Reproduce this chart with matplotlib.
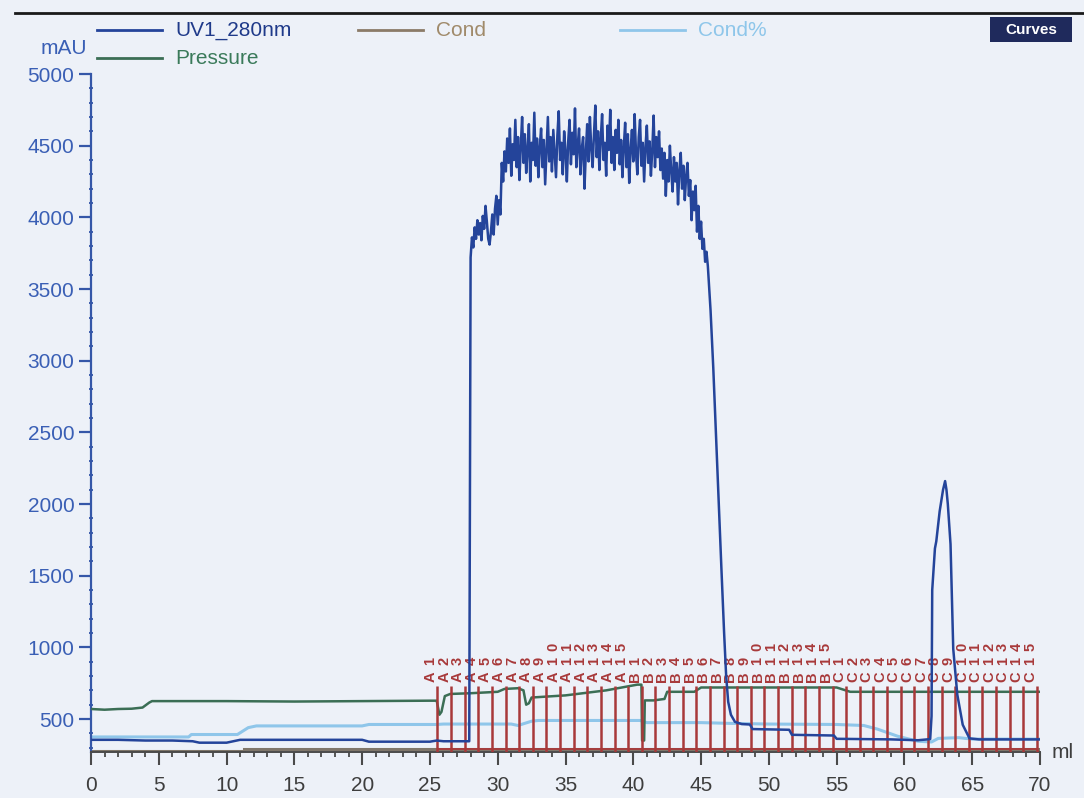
import numpy as np
import matplotlib
matplotlib.use("Agg")
import matplotlib.pyplot as plt
from matplotlib.lines import Line2D
from matplotlib.patches import Rectangle
from matplotlib.ticker import MultipleLocator

W, H, DPI = 1084, 798, 100
BG = "#edf1f8"
FONT = "Liberation Sans"

# ---------------- data ----------------
uv_pre_x = [0, 2, 4, 6, 7.5, 8, 10, 10.5, 11, 15, 20, 20.5, 25, 25.5, 26, 27, 27.9]
uv_pre_y = [355, 355, 350, 350, 345, 335, 335, 345, 355, 355, 355, 342, 342, 350, 345, 345, 345]

uv_plateau_start, uv_plateau_step = 28.0, 0.1
uv_plateau_y = [
    3720, 3860, 3790, 3930, 3850, 3980, 3880, 3960, 3840, 4010,
    3920, 4080, 3970, 3850, 3810, 3900, 4020, 3880, 4060, 4150,
    3950, 4120, 4020, 4380, 4250, 4460, 4320, 4550, 4380, 4620,
    4290, 4510, 4400, 4680, 4350, 4560, 4260, 4490, 4700, 4380,
    4580, 4310, 4470, 4650, 4250, 4520, 4400, 4730, 4360, 4550,
    4280, 4490, 4620, 4350, 4540, 4230, 4460, 4700, 4390, 4560,
    4320, 4610, 4450, 4280, 4570, 4740, 4400, 4520, 4300, 4600,
    4460, 4250, 4530, 4680, 4370, 4590, 4440, 4760, 4350, 4500,
    4620, 4300, 4480, 4560, 4200, 4450, 4650, 4390, 4700, 4480,
    4350, 4580, 4780, 4420, 4600, 4330, 4550, 4720, 4400, 4520,
    4290, 4640, 4470, 4750, 4380, 4560, 4330, 4610, 4450, 4680,
    4370, 4540, 4280, 4490, 4660, 4350, 4580, 4240, 4470, 4610,
    4390, 4720, 4450, 4300, 4560, 4680, 4360, 4520, 4250, 4490,
    4640, 4380, 4530, 4290, 4470, 4710, 4350, 4560, 4420, 4600,
    4330, 4480, 4270, 4450, 4150, 4400, 4250, 4500, 4320, 4180,
    4420, 4250, 4380, 4090, 4330, 4450, 4200, 4360, 4120, 4290,
    4380, 4150, 4260, 3980, 4180, 4050, 4220, 3900, 4080, 3850,
    3970, 3780, 3850, 3690, 3760, 3660,
]

uv_post_x = [45.7, 45.9, 46.1, 46.3, 46.5, 46.7, 46.85, 47.0, 47.2, 47.5, 48.0, 48.6,
             48.8, 50.0, 51.5, 51.7, 53.0, 54.8, 55.0, 57.0, 59.0, 60.0, 61.0, 61.9,
             62.0, 62.05, 62.25, 62.35, 62.6, 62.85, 63.0, 63.1, 63.2, 63.4, 63.6,
             63.9, 64.3, 64.8, 65.5, 70.0]
uv_post_y = [3350, 2950, 2480, 2000, 1550, 1100, 800, 620, 530, 480, 465, 462,
             430, 428, 425, 390, 388, 385, 362, 360, 358, 355, 352, 360,
             520, 1400, 1690, 1740, 1950, 2100, 2160, 2100, 2000, 1720, 990,
             670, 460, 365, 358, 358]

pressure_x = [0, 1, 2, 3, 3.8, 4.3, 4.5, 10, 15, 20, 25, 25.5, 25.7, 25.85, 26.1, 26.5,
              28, 30, 30.5, 31.5, 31.9, 32.1, 32.3, 32.5, 35, 38, 40.3, 40.6, 40.65,
              40.8, 40.85, 41.5, 42.3, 42.5, 44.5, 45, 47, 50, 55, 56, 60, 65, 70]
pressure_y = [570, 565, 570, 572, 580, 615, 625, 625, 622, 625, 628, 628, 530, 550, 660, 675,
              680, 690, 710, 715, 700, 600, 610, 650, 665, 700, 740, 740, 350,
              350, 630, 630, 640, 690, 690, 720, 720, 720, 720, 690, 690, 690, 690]

condpct_x = [0, 7.2, 7.4, 10.8, 11.6, 12.2, 20, 20.5, 25.5, 26, 31, 31.5, 32.5, 33, 40.5,
             41, 45, 47, 50, 55, 57, 58, 59.5, 61, 62, 62.5, 64, 65, 70]
condpct_y = [375, 375, 392, 392, 440, 452, 452, 462, 462, 465, 465, 455, 485, 490, 490,
             475, 475, 470, 465, 462, 455, 430, 380, 345, 340, 365, 370, 360, 360]

cond_x = [0, 11.3, 11.3, 70]
cond_y = [280, 280, 290, 290]

fraction_pos = [25.55, 26.56, 27.56, 28.57, 29.57, 30.58, 31.58, 32.59, 33.59, 34.60,
                35.60, 36.61, 37.61, 38.62, 39.62, 40.63, 41.63, 42.64, 43.64, 44.65,
                45.65, 46.66, 47.66, 48.67, 49.67, 50.68, 51.68, 52.69, 53.69, 54.70,
                55.70, 56.71, 57.71, 58.72, 59.72, 60.73, 61.73, 62.74, 63.74, 64.75,
                65.75, 66.76, 67.76, 68.77, 69.77]
fraction_labels = ([f"A{i}" for i in range(1, 16)] + [f"B{i}" for i in range(1, 16)]
                   + [f"C{i}" for i in range(1, 16)])

x_ticks = [0, 5, 10, 15, 20, 25, 30, 35, 40, 45, 50, 55, 60, 65, 70]
y_ticks = [500, 1000, 1500, 2000, 2500, 3000, 3500, 4000, 4500, 5000]

# ---------------- colours ----------------
C_UV = "#24449a"
C_PRESS = "#3b6e55"
C_CONDPCT = "#8fc6ea"
C_COND = "#7f766a"
C_FRAC = "#a8393a"

uv_plateau_x = [round(uv_plateau_start + i * uv_plateau_step, 2) for i in range(len(uv_plateau_y))]
uv_x = uv_pre_x + uv_plateau_x + uv_post_x
uv_y = uv_pre_y + uv_plateau_y + uv_post_y

plt.rcParams["font.family"] = [FONT, "DejaVu Sans"]

fig = plt.figure(figsize=(W / DPI, H / DPI), dpi=DPI, facecolor=BG)


def fx(px):
    return px / W


def fy(py):
    return 1 - py / H


ax = fig.add_axes([fx(91), fy(752), (1040 - 91) / W, (752 - 74) / H])
ax.set_facecolor(BG)
ax.set_xlim(0, 70)
ax.set_ylim(270, 5000)

for s in ["top", "right"]:
    ax.spines[s].set_visible(False)
ax.spines["left"].set_color("#3557a8")
ax.spines["left"].set_linewidth(1.6)
ax.spines["bottom"].set_color("#4a4a4a")
ax.spines["bottom"].set_linewidth(1.4)

ax.set_xticks(x_ticks)
ax.set_xticklabels([str(t) for t in x_ticks])
ax.xaxis.set_minor_locator(MultipleLocator(1))
ax.set_yticks(y_ticks)
ax.set_yticklabels([str(t) for t in y_ticks])
ax.yaxis.set_minor_locator(MultipleLocator(100))
ax.tick_params(axis="x", which="major", direction="out", length=9, width=1.5,
               color="#4a4a4a", labelcolor="#3e3e3e", labelsize=15, pad=8)
ax.tick_params(axis="x", which="minor", direction="out", length=3.5, width=1.3, color="#4a4a4a")
ax.tick_params(axis="y", which="major", direction="out", length=9, width=1.6,
               color="#3557a8", labelcolor="#3a5fb5", labelsize=15, pad=3)
ax.tick_params(axis="y", which="minor", direction="inout", length=3, width=1.3, color="#3557a8")

# traces
ax.plot(cond_x, cond_y, color=C_COND, lw=2.2, zorder=2, solid_joinstyle="miter")
ax.plot(condpct_x, condpct_y, color=C_CONDPCT, lw=2.2, zorder=2)
ax.plot(pressure_x, pressure_y, color=C_PRESS, lw=1.8, zorder=3)

# fractions
ax.vlines(fraction_pos, 270, 730, colors=C_FRAC, lw=1.8, zorder=4)
ax.hlines(290, fraction_pos[0], fraction_pos[-1], colors=C_FRAC, lw=1.3, zorder=4)
row_y = [798, 903, 1003]
for xpos, lab in zip(fraction_pos, fraction_labels):
    for k, ch in enumerate(lab):
        ax.text(xpos - 0.5, row_y[k], ch, rotation=90, ha="center", va="center",
                fontsize=10.5, fontweight="bold", color=C_FRAC, zorder=5)

ax.plot(uv_x, uv_y, color=C_UV, lw=1.8, zorder=6)

# axis titles
fig.text(fx(87), fy(48), "mAU", ha="right", va="center", fontsize=15, color="#3a5fb5")
fig.text(fx(1052), fy(752), "ml", ha="left", va="center", fontsize=15, color="#3e3e3e")

# legend
leg = [("UV1_280nm", C_UV, "#1f3a8a", 97, 30),
       ("Cond", "#8b7b68", "#a08a6a", 358, 30),
       ("Cond%", C_CONDPCT, "#8ec6ea", 620, 30),
       ("Pressure", C_PRESS, "#3a7a5a", 97, 58)]
for name, lc, tc, x0, yy in leg:
    fig.add_artist(Line2D([fx(x0), fx(x0 + 65)], [fy(yy), fy(yy)], color=lc, lw=2,
                          transform=fig.transFigure))
    fig.text(fx(x0 + 78), fy(yy), name, ha="left", va="center", fontsize=15, color=tc)

# top rule and Curves button
fig.add_artist(Line2D([fx(15), fx(1084)], [fy(13), fy(13)], color="#1a1a1a", lw=2,
                      transform=fig.transFigure))
fig.add_artist(Rectangle((fx(990), fy(42)), (1072 - 990) / W, 25 / H, transform=fig.transFigure,
                         facecolor="#1f2a5c", edgecolor="none"))
fig.text(fx(1031), fy(29.5), "Curves", ha="center", va="center", fontsize=11,
         fontweight="bold", color="white")

fig.savefig("out.png", dpi=DPI, facecolor=BG)
